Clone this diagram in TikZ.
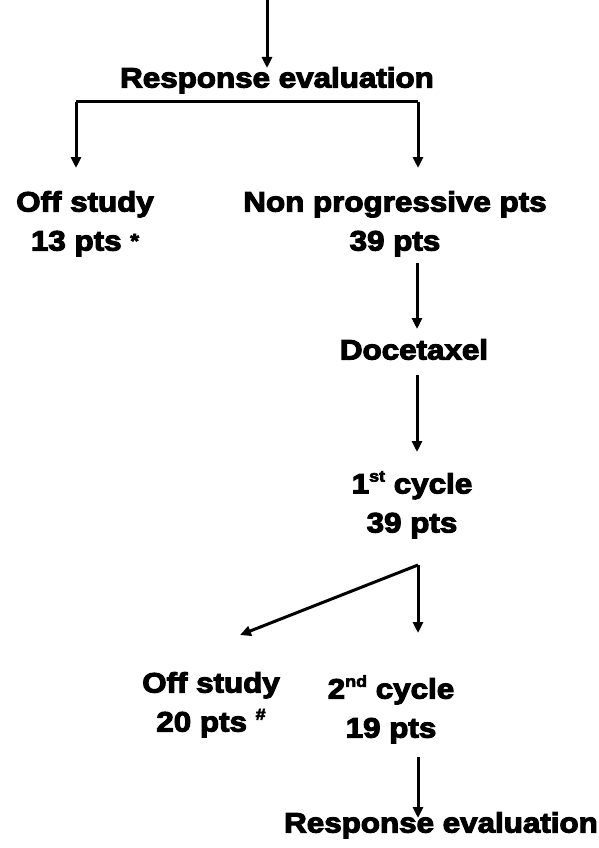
\documentclass[tikz,border=0pt]{standalone}
\usepackage{fontspec}
\newfontfamily\hv{Liberation Sans}[FakeStretch=1.12,FakeBold=4]
\usetikzlibrary{arrows.meta}
\newcommand{\supx}[1]{\raisebox{0.42em}{\fontsize{16}{16}\selectfont #1}}
\begin{document}
\begin{tikzpicture}[x=1pt,y=-1pt,
  lbl/.style={font=\hv\bfseries\fontsize{28}{39}\selectfont, inner sep=0pt, anchor=north, align=center},
  arr/.style={draw=black, line width=3pt, -{Triangle[width=10pt,length=11pt]}},
  ln/.style={draw=black, line width=3pt}]
\useasboundingbox (0,0) rectangle (599,848);
% nodes
\node[lbl] (re1) at (277,67) {Response evaluation};
\node[lbl] (off1) at (85,191) {Off study\\13 pts \raisebox{0.1em}{\fontsize{20}{20}\selectfont *}};
\node[lbl] (np) at (395,191) {Non progressive pts\\39 pts};
\node[lbl] (doc) at (414,339) {Docetaxel};
\node[lbl] (c1) at (412,471) {1\supx{st} cycle\\39 pts};
\node[lbl] (off2) at (211,672) {Off study\\20 pts \supx{\#}};
\node[lbl] (c2) at (391,675) {2\supx{nd} cycle\\19 pts};
\node[lbl] (re2) at (441,812) {Response evaluation};
% coordinates
\coordinate (top) at (267,0);
\coordinate (top2) at (267,68);
\coordinate (bar) at (267,102);
\coordinate (t1) at (76,168);
\coordinate (t2) at (418,168);
\coordinate (s1) at (417,263);
\coordinate (e1) at (417,329);
\coordinate (s2) at (417,375);
\coordinate (e2) at (417,452);
\coordinate (apex) at (418,565);
\coordinate (tl) at (240,635);
\coordinate (tr) at (418,633);
\coordinate (s3) at (418,757);
\coordinate (e3) at (418,818);
% connectors
\draw[arr] (top) -- (top2);
\draw[ln] (bar -| t1) -- (bar -| t2);
\draw[arr] (bar -| t1) -- (t1);
\draw[arr] (bar -| t2) -- (t2);
\draw[arr] (s1) -- (e1);
\draw[arr] (s2) -- (e2);
\draw[arr] (apex) -- (tl);
\draw[arr] (apex) -- (tr);
\draw[arr] (s3) -- (e3);
\end{tikzpicture}
\end{document}
